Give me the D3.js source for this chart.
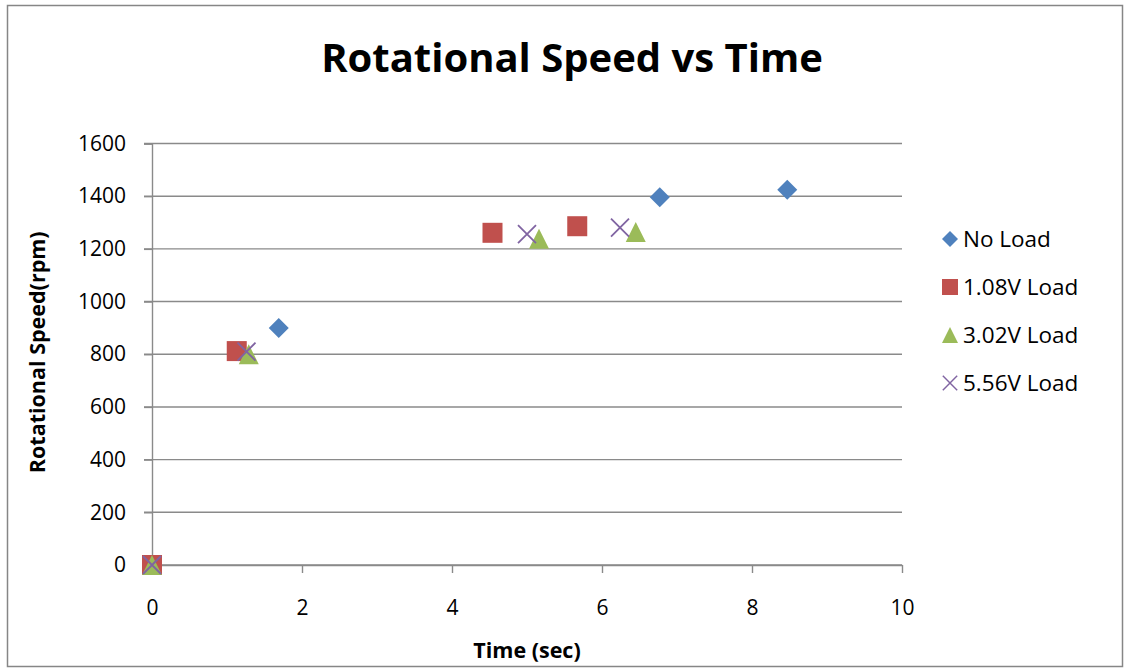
<!DOCTYPE html>
<html>
<head>
<meta charset="utf-8">
<script src="https://cdn.jsdelivr.net/npm/d3@7"></script>
<style>
  body { margin: 0; background: #fff; }
  svg { font-family: "Open Sans", "Noto Sans", sans-serif; }
</style>
</head>
<body>
<svg id="chart" width="1130" height="670"></svg>
<script>
// Series data (time in sec, speed in rpm)
const seriesNames = ['No Load', '1.08V Load', '3.02V Load', '5.56V Load'];
const noLoadTime = [0, 1.69, 6.77, 8.47];
const noLoadSpeed = [0, 900, 1396, 1424];
const load108Time = [0, 1.13, 4.54, 5.67];
const load108Speed = [0, 812, 1261, 1286];
const load302Time = [0, 1.29, 5.16, 6.45];
const load302Speed = [0, 800, 1238, 1264];
const load556Time = [0, 1.26, 5.0, 6.24];
const load556Speed = [0, 810, 1256, 1281];
const xTicks = [0, 2, 4, 6, 8, 10];
const yTicks = [0, 200, 400, 600, 800, 1000, 1200, 1400, 1600];

const series = [
    { name: seriesNames[0], t: noLoadTime, v: noLoadSpeed, color: '#4F81BD', shape: 'diamond' },
    { name: seriesNames[1], t: load108Time, v: load108Speed, color: '#C0504D', shape: 'square' },
    { name: seriesNames[2], t: load302Time, v: load302Speed, color: '#9BBB59', shape: 'triangle' },
    { name: seriesNames[3], t: load556Time, v: load556Speed, color: '#8064A2', shape: 'cross' }
];

const svg = d3.select('#chart');

// Outer frame
svg.append('rect')
    .attr('x', 7.5).attr('y', 5.5)
    .attr('width', 1115).attr('height', 661)
    .attr('fill', '#fff')
    .attr('stroke', '#868686')
    .attr('stroke-width', 1.5);

const x = d3.scaleLinear().domain([0, 10]).range([152, 902]);
const y = d3.scaleLinear().domain([0, 1600]).range([565, 143.5]);

const grid = '#8a8a8a';

// Horizontal gridlines
svg.append('g')
    .selectAll('line')
    .data(yTicks)
    .join('line')
    .attr('x1', x(0) - 8)
    .attr('x2', x(10))
    .attr('y1', d => y(d))
    .attr('y2', d => y(d))
    .attr('stroke', grid)
    .attr('stroke-width', 1.4);

// Y axis
const yAxis = svg.append('g')
    .attr('transform', `translate(${x(0)},0)`)
    .call(d3.axisLeft(y).tickValues(yTicks).tickSize(8).tickPadding(18).tickFormat(d3.format('d')));
yAxis.attr('font-family', null).attr('font-size', null);
yAxis.select('.domain').attr('stroke', grid).attr('stroke-width', 1.4);
yAxis.selectAll('.tick line').attr('stroke', grid).attr('stroke-width', 1.4);
yAxis.selectAll('text').attr('font-size', 21).attr('fill', '#000');

// X axis
const xAxis = svg.append('g')
    .attr('transform', `translate(0,${y(0)})`)
    .call(d3.axisBottom(x).tickValues(xTicks).tickSize(8).tickPadding(27).tickSizeOuter(0));
xAxis.attr('font-family', null).attr('font-size', null);
xAxis.select('.domain').attr('stroke', grid).attr('stroke-width', 1.4);
xAxis.selectAll('.tick line').attr('stroke', grid).attr('stroke-width', 1.4);
xAxis.selectAll('text').attr('font-size', 21).attr('fill', '#000');

// Title and axis titles
svg.append('text')
    .attr('x', 572).attr('y', 72)
    .attr('text-anchor', 'middle')
    .attr('font-size', 40).attr('font-weight', 'bold')
    .text('Rotational Speed vs Time');

svg.append('text')
    .attr('x', 527).attr('y', 658)
    .attr('text-anchor', 'middle')
    .attr('font-size', 21.5).attr('font-weight', 'bold')
    .text('Time (sec)');

svg.append('text')
    .attr('transform', `translate(45,${y(800) - 2}) rotate(-90)`)
    .attr('text-anchor', 'middle')
    .attr('font-size', 21.5).attr('font-weight', 'bold')
    .text('Rotational Speed(rpm)');

// Marker drawing
function marker(sel, s) {
    if (s.shape === 'cross') {
        sel.append('path')
            .attr('d', 'M-9,-9L9,9M-9,9L9,-9')
            .attr('stroke', s.color)
            .attr('stroke-width', 1.8)
            .attr('fill', 'none');
    } else if (s.shape === 'diamond') {
        sel.append('path')
            .attr('d', 'M0,-10L10,0L0,10L-10,0Z')
            .attr('fill', s.color);
    } else if (s.shape === 'square') {
        sel.append('rect')
            .attr('x', -10).attr('y', -10)
            .attr('width', 20).attr('height', 20)
            .attr('fill', s.color);
    } else {
        sel.append('path')
            .attr('d', 'M0,-10L10,10L-10,10Z')
            .attr('fill', s.color);
    }
}

// Points
series.forEach(s => {
    const pts = s.t.map((t, i) => ({ t: t, v: s.v[i] }));
    svg.append('g')
        .selectAll('g')
        .data(pts)
        .join('g')
        .attr('transform', d => `translate(${x(d.t)},${y(d.v)})`)
        .each(function() { marker(d3.select(this), s); });
});

// Legend
const legend = svg.append('g')
    .selectAll('g')
    .data(series)
    .join('g')
    .attr('transform', (d, i) => `translate(950,${239 + i * 48})`);

legend.each(function(d) {
    const g = d3.select(this);
    const shrink = g.append('g').attr('transform', 'scale(0.8)');
    marker(shrink, d);
});

legend.append('text')
    .attr('x', 13)
    .attr('y', 8)
    .attr('font-size', 22.5)
    .text(d => d.name);
</script>
</body>
</html>
